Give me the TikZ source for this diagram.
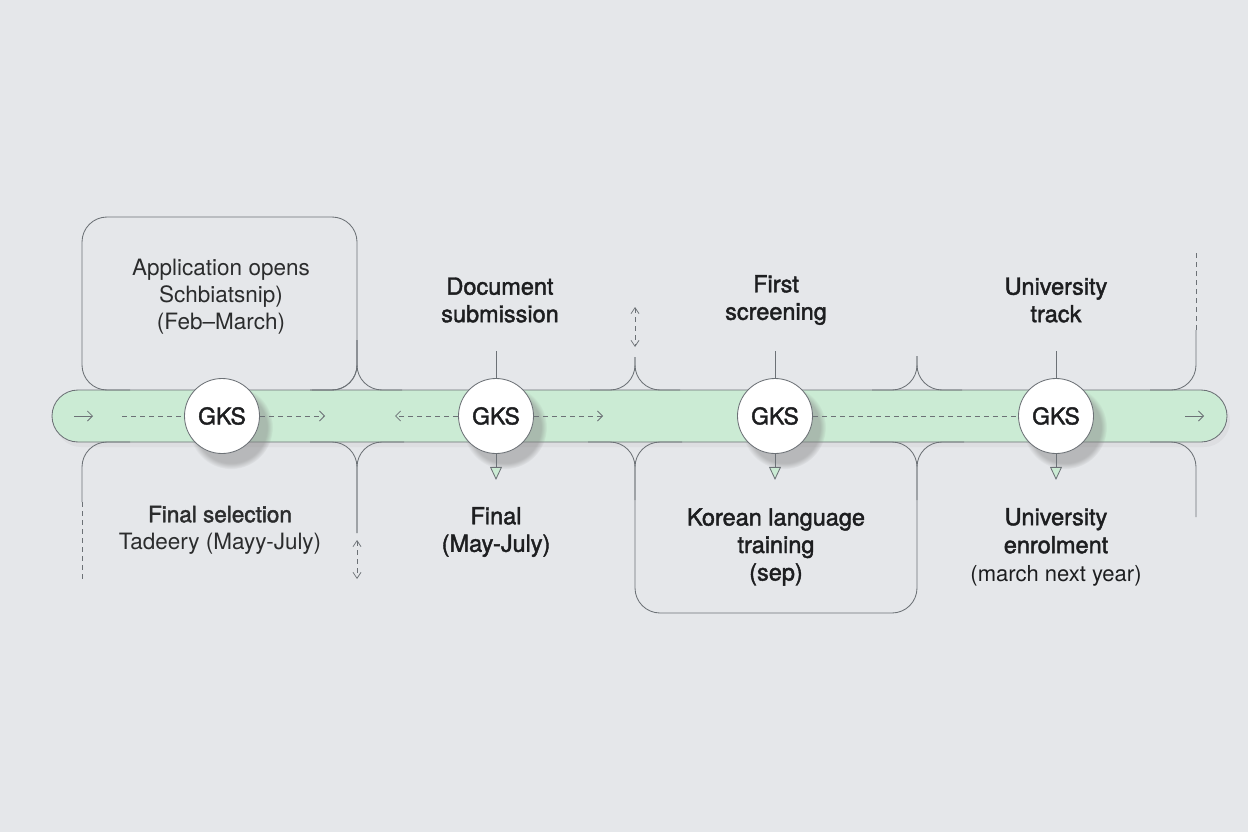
\documentclass[tikz,border=0pt]{standalone}
\usepackage{fontspec}
\setmainfont{TeX Gyre Heros}
\newfontfamily\medfont{TeX Gyre Heros}[FakeBold=1.8]
\usetikzlibrary{arrows.meta, shadows, fadings}
\definecolor{cbg}{HTML}{E5E7EA}
\definecolor{cbar}{HTML}{CBEBD4}
\definecolor{cline}{HTML}{6C7176}
\definecolor{cink}{HTML}{1D1E20}
\tikzset{
  every picture/.style={x=1pt, y=-1pt, line width=0.85pt},
  rule/.style={draw=cline, line width=0.85pt},
  curl/.style={rule, rounded corners=25pt},
  gks/.style={circle, draw=cline, fill=white, minimum size=75pt, inner sep=0pt,
    font=\medfont\fontsize{23}{24}\selectfont, text=cink,
    circular drop shadow={shadow xshift=8pt, shadow yshift=-10pt, shadow scale=1.12, opacity=0.45}},
  head/.style={font=\medfont\fontsize{23.5}{27.5}\selectfont, text=cink, align=center},
  plain/.style={font=\fontsize{22.5}{27}\selectfont, text=cink!94, align=center},
  flow/.style={draw=cline, dash pattern=on 5pt off 4pt, line width=0.75pt},
  tip/.style={-{Straight Barb[length=5pt, width=10pt]}},
  both/.style={{Straight Barb[length=6pt, width=8pt]}-{Straight Barb[length=6pt, width=8pt]}},
  drop/.style={-{Triangle[open, fill=cbar, length=13pt, width=12pt]}},
}

\begin{document}
\begin{tikzpicture}
  \fill[cbg] (0,0) rectangle (1248,832);
  \useasboundingbox (0,0) rectangle (1248,832);

  % the green track
  \draw[rule, fill=cbar, rounded corners=26pt,
    drop shadow={shadow xshift=3pt, shadow yshift=-5pt, opacity=0.08}]
    (52,390) rectangle (1227,442);

  % box round the first step, and the one under the third
  \draw[curl] (130,390) -| (82,217) -| (357,390) -- (310,390);
  \draw[curl] (588,442) -| (635,613) -| (917,442) -- (964,442);
  \draw[curl] (682,442) -| (635,500);
  \draw[curl] (870,442) -| (917,500);

  % joins above the track
  \foreach \x/\t in {357/340, 635/357, 917/356} {
    \draw[curl] (\x-45,390) -| (\x,\t);
    \draw[curl] (\x+45,390) -| (\x,\t);
  }
  \draw[curl] (1150,390) -| (1196,330);
  \draw[flow] (1196,330) -- (1196,252);

  % joins under the track
  \draw[curl] (1150,442) -| (1196,517);
  \draw[curl] (130,442) -| (82,502);
  \draw[flow] (82,502) -- (82,580);
  \draw[curl] (310,442) -| (357,533);
  \draw[curl] (404,442) -| (357,533);

  % small double arrows
  \coordinate (u1) at (357,540);
  \coordinate (d1) at (357,579);
  \coordinate (u2) at (635,307);
  \coordinate (d2) at (635,347);
  \draw[flow, both] (u1) -- (d1);
  \draw[flow, both] (u2) -- (d2);

  % the four stops
  \foreach \i/\x in {1/222, 2/496, 3/775, 4/1056}
    \node[gks] (g\i) at (\x,416) {GKS};

  \foreach \i in {2,3,4} {
    \draw[rule] (g\i.north) -- ++(0,-27);
    \draw[rule, drop] (g\i.south) -- ++(0,26);
  }

  % flow marks inside the track
  \coordinate (s0) at (74,416);
  \coordinate (s1) at (93,416);
  \coordinate (f0) at (122,416);
  \coordinate (f1) at (325,416);
  \coordinate (f2) at (395,416);
  \coordinate (f3) at (603,416);
  \coordinate (e0) at (1185,416);
  \coordinate (e1) at (1204,416);
  \draw[rule, tip, line width=0.75pt] (s0) -- (s1);
  \draw[flow] (f0) -- (g1);
  \draw[flow, tip] (g1) -- (f1);
  \draw[flow, tip] (g2) -- (f2);
  \draw[flow, tip] (g2) -- (f3);
  \draw[flow] (g3) -- (g4);
  \draw[rule, tip, line width=0.75pt] (e0) -- (e1);

  % labels above
  \node[plain] (t1) at (221,297) {Application opens\\Schbiatsnip)\\(Feb--March)};
  \node[head] (t2) at (500,300) {Document\\submission};
  \node[head] (t3) at (776,300) {First\\screening};
  \node[head] (t4) at (1056,300) {University\\track};

  % labels below
  \node[plain] (b1) at (220,530) {{\medfont Final selection}\\Tadeery (Mayy-July)};
  \node[head] (b2) at (496,532) {Final\\(May-July)};
  \node[head] (b3) at (776,547) {Korean language\\training\\(sep)};
  \node[head, font=\medfont\fontsize{23.5}{28}\selectfont] (b4) at (1056,547)
    {University\\enrolment\\{\normalfont\fontsize{22}{28}\selectfont(march next year)}};
\end{tikzpicture}
\end{document}
